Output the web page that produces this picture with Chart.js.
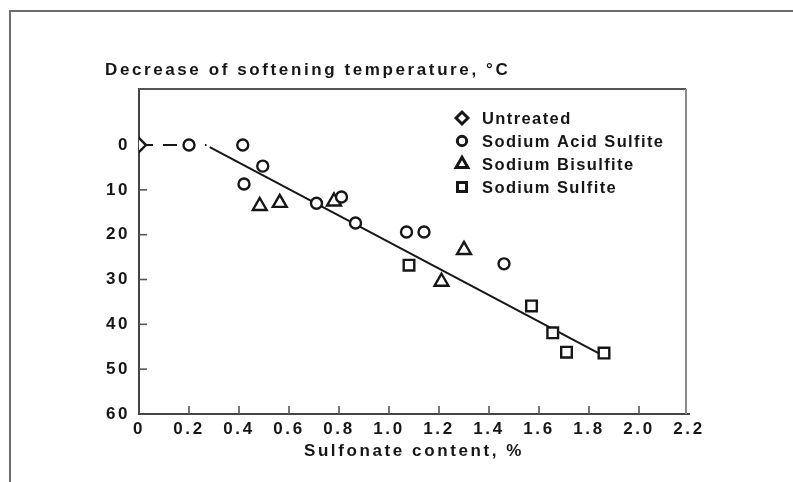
<!DOCTYPE html>
<html>
<head>
<meta charset="utf-8">
<script src="https://cdn.jsdelivr.net/npm/chart.js@4.4.1/dist/chart.umd.min.js"></script>
<style>
  html, body { margin: 0; padding: 0; background: #fff; }
  #wrap { position: relative; width: 793px; height: 482px; overflow: hidden; }
  #frame { position: absolute; left: 9px; top: 10px; width: 800px; height: 490px;
           border-left: 2px solid #6e6e6e; border-top: 2px solid #6e6e6e; }
  #chart { position: absolute; left: 0; top: 0; }
</style>
</head>
<body>
<div id="wrap">
  <div id="frame"></div>
  <canvas id="chart" width="793" height="482"></canvas>
</div>
<script>
  // axis ticks
  const xTicks = [0, 0.2, 0.4, 0.6, 0.8, 1.0, 1.2, 1.4, 1.6, 1.8, 2.0, 2.2];
  const yTicks = [0, 10, 20, 30, 40, 50, 60];

  const seriesNames = ["Untreated", "Sodium Acid Sulfite", "Sodium Bisulfite", "Sodium Sulfite"];

  // sulfonate content (%) vs. decrease of softening temperature (°C)
  const untreatedX = [0];
  const untreatedY = [0];
  const acidX = [0.2, 0.415, 0.495, 0.42, 0.71, 0.81, 0.866, 1.07, 1.14, 1.46];
  const acidY = [0, 0, 4.7, 8.7, 13.0, 11.6, 17.4, 19.4, 19.4, 26.5];
  const bisulfiteX = [0.483, 0.563, 0.78, 1.21, 1.30];
  const bisulfiteY = [13.6, 12.9, 12.6, 30.5, 23.4];
  const sulfiteX = [1.08, 1.57, 1.655, 1.71, 1.86];
  const sulfiteY = [26.8, 35.9, 41.9, 46.2, 46.4];

  // regression line and the dashed lead-in along zero
  const fitX = [0.283, 1.868];
  const fitY = [0.45, 47.3];
  const dashX = [0, 0.27];
  const dashY = [0, 0];

  const FONT = "'Liberation Sans', Arial, Helvetica, sans-serif";
  const INK = "#161616";

  function pairs(xs, ys) {
    return xs.map((x, i) => ({ x: x, y: ys[i] }));
  }

  const markerStyles = [
    { style: "rectRot", radius: 7 },
    { style: "circle", radius: 5.5 },
    { style: "triangle", radius: 8 },
    { style: "rect", radius: 7.5 }
  ];

  function markerSet(i, xs, ys) {
    return {
      label: seriesNames[i],
      data: pairs(xs, ys),
      showLine: false,
      pointStyle: markerStyles[i].style,
      pointRadius: markerStyles[i].radius,
      pointBorderWidth: 2.4,
      pointBorderColor: INK,
      pointBackgroundColor: "#fff",
      order: 1
    };
  }

  function drawMarker(ctx, m, x, y) {
    ctx.save();
    ctx.lineWidth = 3;
    ctx.strokeStyle = INK;
    ctx.fillStyle = "#fff";
    Chart.helpers.drawPoint(ctx, { pointStyle: m.style, radius: m.radius * 0.85, rotation: 0, borderWidth: 3 }, x, y);
    ctx.restore();
  }

  // the printed lettering is widely tracked
  const textSpacing = {
    id: "textSpacing",
    beforeDraw(chart) {
      chart.ctx.letterSpacing = "2.6px";
    }
  };

  // box edges and the short inward tick marks
  const frameAndTicks = {
    id: "frameAndTicks",
    beforeDatasetsDraw(chart) {
      const { ctx, chartArea: a, scales } = chart;
      ctx.save();
      ctx.lineCap = "butt";
      ctx.strokeStyle = "#555";
      ctx.lineWidth = 2;
      ctx.beginPath();
      ctx.moveTo(a.left, a.top);
      ctx.lineTo(a.right - 3, a.top);
      ctx.stroke();
      ctx.strokeStyle = "#8a8a8a";
      ctx.beginPath();
      ctx.moveTo(a.right - 3, a.top);
      ctx.lineTo(a.right - 3, a.bottom);
      ctx.stroke();

      ctx.strokeStyle = "#555";
      ctx.lineWidth = 1.6;
      yTicks.slice(1, -1).forEach((v) => {
        const py = scales.y.getPixelForValue(v);
        ctx.beginPath();
        ctx.moveTo(a.left, py);
        ctx.lineTo(a.left + 8, py);
        ctx.stroke();
      });
      xTicks.slice(1, -1).forEach((v) => {
        const px = scales.x.getPixelForValue(v);
        ctx.beginPath();
        ctx.moveTo(px, a.bottom);
        ctx.lineTo(px, a.bottom - 8);
        ctx.stroke();
      });
      ctx.restore();
    }
  };

  // legend sits inside the plotting box, upper right
  const boxLegend = {
    id: "boxLegend",
    afterDatasetsDraw(chart) {
      const ctx = chart.ctx;
      const x0 = 462;
      const y0 = 118;
      const step = 23;
      ctx.save();
      ctx.font = "bold 16.5px " + FONT;
      ctx.letterSpacing = "1.4px";
      ctx.fillStyle = INK;
      ctx.textBaseline = "middle";
      ctx.textAlign = "left";
      seriesNames.forEach((name, i) => {
        const y = y0 + i * step;
        drawMarker(ctx, markerStyles[i], x0, y);
        ctx.fillText(name, x0 + 20, y + 1);
      });
      ctx.restore();
    }
  };

  const tickFont = { family: FONT, size: 17, weight: "bold" };

  new Chart(document.getElementById("chart"), {
    type: "scatter",
    data: {
      datasets: [
        markerSet(0, untreatedX, untreatedY),
        markerSet(1, acidX, acidY),
        markerSet(2, bisulfiteX, bisulfiteY),
        markerSet(3, sulfiteX, sulfiteY),
        {
          label: "fit",
          data: pairs(fitX, fitY),
          showLine: true,
          borderColor: INK,
          borderWidth: 2,
          pointRadius: 0,
          order: 2
        },
        {
          label: "lead",
          data: pairs(dashX, dashY),
          showLine: true,
          borderColor: INK,
          borderWidth: 2,
          borderDash: [14, 10, 14, 28, 2, 10],
          pointRadius: 0,
          order: 2
        }
      ]
    },
    options: {
      responsive: false,
      animation: false,
      layout: { padding: { left: 105, right: 104, top: 50, bottom: 18 } },
      plugins: {
        legend: { display: false },
        tooltip: { enabled: false },
        title: {
          display: true,
          text: "Decrease of softening temperature, °C",
          align: "start",
          color: INK,
          font: { family: FONT, size: 17, weight: "bold" },
          padding: { top: 10, bottom: 8.6 }
        }
      },
      scales: {
        x: {
          type: "linear",
          min: 0,
          max: 2.2,
          afterBuildTicks: (scale) => {
            scale.ticks = xTicks.map((v) => ({ value: v }));
          },
          afterFit: (scale) => {
            scale.height = 50;
          },
          grid: { display: false, drawTicks: false },
          border: { display: true, color: "#444", width: 2 },
          ticks: {
            color: INK,
            font: tickFont,
            padding: 5,
            autoSkip: false,
            maxRotation: 0,
            callback: (v) => (v === 0 ? "0" : Number(v).toFixed(1))
          },
          title: {
            display: true,
            text: "Sulfonate content, %",
            color: INK,
            font: tickFont,
            padding: { top: 0, bottom: 2 }
          }
        },
        y: {
          type: "linear",
          reverse: true,
          min: -12.5,
          max: 60,
          afterBuildTicks: (scale) => {
            scale.ticks = yTicks.map((v) => ({ value: v }));
          },
          afterFit: (scale) => {
            scale.width = 34;
          },
          grid: { display: false, drawTicks: false },
          border: { display: true, color: "#444", width: 2 },
          ticks: {
            color: INK,
            font: tickFont,
            padding: 9,
            callback: (v) => String(v)
          }
        }
      }
    },
    plugins: [textSpacing, frameAndTicks, boxLegend]
  });
</script>
</body>
</html>
